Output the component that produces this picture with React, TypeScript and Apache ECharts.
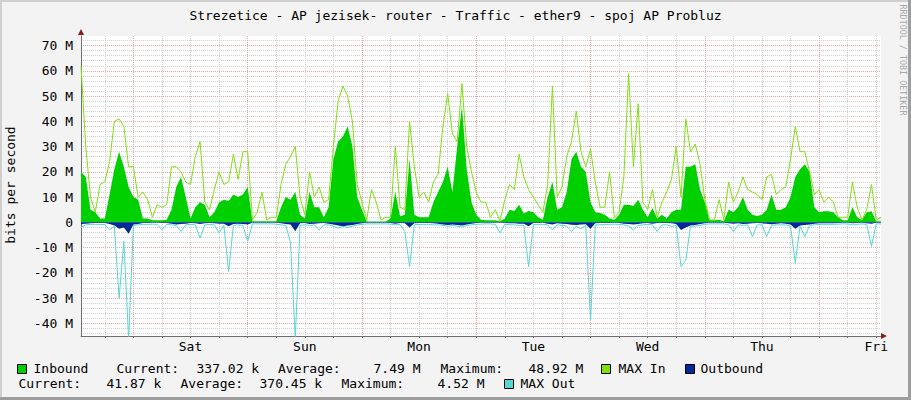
import React, { useEffect, useRef } from 'react';
import * as echarts from 'echarts';

const TITLE = 'Strezetice - AP jezisek- router - Traffic - ether9 - spoj AP Probluz';
const Y_AXIS_NAME = 'bits per second';
const WATERMARK = 'RRDTOOL / TOBI OETIKER';

// x axis: hours since the left edge of the graph (one week)
const hours = Array.from({ length: 169 }, (_, i) => String(i));
const dayLabels = ['Sat', 'Sun', 'Mon', 'Tue', 'Wed', 'Thu', 'Fri'];

// values in Mbit/s
const inbound = [
  20, 18, 5, 4, 1.5, 1.5, 11, 21, 28, 22,
  14, 10, 9, 1.5, 1.5, 0.8, 0.8, 0.8, 1, 5,
  14, 18, 10, 1.5, 6, 8, 7, 2, 4, 8,
  9, 8.5, 11, 10, 11, 14, 0.4, 0.4, 0.4, 0.4,
  0.4, 0.4, 6, 10, 9, 12, 3, 1.5, 12, 6,
  6, 2, 6, 25, 32, 34, 38, 30, 10, 5,
  0.3, 0.3, 0.3, 0.3, 0.3, 1.5, 12, 2.4, 3, 25,
  3, 2, 2, 2, 8, 12, 16, 22, 12, 30,
  46, 21, 8, 3, 1, 0.8, 0.8, 0.8, 0.4, 1.5,
  5, 4.5, 7, 3.5, 4.5, 4, 2, 1, 10, 16,
  5, 6, 12, 25, 28, 22, 20, 8, 4, 3.7,
  3, 1.5, 1, 3, 7, 7, 6.5, 9, 5, 2,
  5.7, 1.5, 3, 1.5, 4, 5, 5, 22, 22, 23,
  13, 8, 0.8, 0.8, 1, 0.4, 5, 4, 6, 10,
  5, 3, 2.5, 3, 5, 11, 5, 5, 6, 10,
  18, 21, 23, 20, 6, 4, 4.4, 4.4, 4, 2,
  0.8, 0.8, 6, 2, 0.8, 4, 4.4, 0.4, 0.4,
];

const maxIn = [
  62, 30, 10, 4, 15, 16, 24, 40, 41, 38,
  22, 22, 10, 12, 9, 2, 7, 6, 7, 22,
  22, 20, 16, 15, 26, 32, 8, 5, 13, 20,
  15, 16, 27, 17, 28, 28, 1, 4, 12, 1,
  2, 2, 15, 23, 26, 30, 10, 3, 20, 10,
  14, 8, 9, 30, 48, 54, 50, 40, 15, 8,
  1, 13, 8, 1, 2, 2, 30, 6, 5, 40,
  22, 10, 12, 8, 16, 19, 38, 51, 35, 32,
  55, 30, 20, 12, 8, 8, 2, 5, 0.5, 9,
  15, 13, 27, 18, 13, 10, 7, 4, 15, 54,
  10, 14, 26, 32, 44, 28, 22, 29, 16, 6,
  6, 20, 2, 4, 18, 59, 22, 47, 8, 5,
  13, 2, 8, 12, 17, 30, 10, 41, 28, 31,
  23, 9, 1, 1, 9, 1, 16, 8, 12, 18,
  13, 12, 11, 9, 18, 19, 11, 13, 14, 25,
  38, 28, 28, 20, 11, 13, 8, 10, 8, 2,
  2, 2, 16, 6, 1, 5, 15, 1, 2,
];

const outbound = [
  -0.6, -0.5, -0.4, -0.3, -0.3, -0.3, -0.6, -1.2, -2.5, -2,
  -4.5, -0.8, -0.6, -0.3, -0.3, -0.2, -0.2, -0.3, -0.3, -0.5,
  -0.8, -0.6, -0.5, -0.3, -0.4, -0.6, -0.4, -0.3, -0.4, -0.5,
  -0.5, -1.5, -0.6, -0.5, -0.6, -0.8, -0.2, -0.2, -0.2, -0.2,
  -0.2, -0.2, -0.4, -0.6, -0.8, -3.5, -0.4, -0.3, -0.6, -0.5,
  -0.4, -0.3, -0.5, -0.8, -1.2, -1.5, -1.2, -1, -0.6, -0.4,
  -0.2, -0.2, -0.2, -0.2, -0.2, -0.3, -0.5, -0.3, -0.4, -2,
  -0.4, -0.3, -0.3, -0.3, -0.4, -0.5, -0.8, -1, -0.8, -1,
  -1.2, -0.8, -0.5, -0.3, -0.2, -0.2, -0.2, -0.2, -0.2, -0.3,
  -0.4, -0.4, -0.5, -0.5, -1.5, -0.3, -0.3, -0.2, -0.5, -0.8,
  -0.4, -0.5, -0.6, -0.9, -1, -0.8, -0.7, -2.5, -0.4, -0.3,
  -0.3, -0.3, -0.2, -0.3, -0.5, -0.6, -0.8, -0.6, -0.4, -0.3,
  -0.5, -0.3, -0.3, -0.3, -0.4, -0.6, -3, -2, -1.2, -1,
  -0.6, -0.4, -0.2, -0.2, -0.2, -0.2, -0.4, -0.5, -0.4, -0.6,
  -0.5, -0.4, -0.3, -0.4, -0.5, -0.7, -0.5, -0.4, -0.5, -0.8,
  -2.5, -1.2, -1, -0.8, -0.5, -0.4, -0.4, -0.4, -0.4, -0.3,
  -0.2, -0.2, -0.4, -0.3, -0.2, -0.4, -0.5, -0.2, -0.2,
];

const maxOut = [
  -2, -1, -0.8, -0.8, -0.8, -0.9, -3, -1.5, -30, -7.5,
  -46, -1.2, -1, -0.8, -0.8, -0.7, -0.8, -3, -0.8, -1,
  -1.2, -3.6, -1, -0.8, -1, -6.2, -1, -0.8, -1, -4.2,
  -1.2, -19.5, -1.2, -1, -1.2, -7.5, -0.6, -0.6, -0.6, -0.6,
  -0.6, -0.7, -1, -1.2, -8, -46, -1.2, -1, -1.2, -1,
  -3, -1, -1, -1.5, -2.3, -1.6, -2, -1.5, -1, -0.8,
  -0.6, -0.6, -0.6, -0.6, -0.6, -0.7, -1, -0.8, -3.6, -17.5,
  -1, -0.8, -0.8, -0.8, -1, -1, -1.2, -1.5, -1.2, -1.5,
  -1.8, -1.2, -1, -0.8, -0.7, -0.6, -0.6, -0.8, -4.2, -0.7,
  -0.9, -1, -1.2, -1.2, -17.5, -0.9, -0.8, -0.8, -1, -3,
  -1, -1.2, -1.5, -3.6, -1.5, -2.5, -1.2, -38.7, -1, -1,
  -0.8, -0.8, -0.7, -0.8, -1, -1.5, -3, -1.2, -1, -0.8,
  -1, -3.6, -1, -1, -1.6, -1.2, -17.5, -15, -1.5, -1.5,
  -1.2, -0.8, -0.6, -0.6, -0.6, -0.6, -1, -3.6, -1, -1.2,
  -1, -5.6, -1, -1, -5.6, -1.2, -1, -1, -1, -1.5,
  -16, -1.5, -5.6, -1.2, -1, -0.8, -0.8, -0.8, -0.8, -0.7,
  -0.6, -0.6, -1, -0.8, -0.6, -0.8, -9.5, -0.6, -0.6,
];

const inboundStats = ['337.02 k', '7.49 M', '48.92 M'];
const outboundStats = ['41.87 k', '370.45 k', '4.52 M'];
const statLabels = ['Current:', 'Average:', 'Maximum:'];
const seriesNames = ['Inbound', 'MAX In', 'Outbound', 'MAX Out'];

const COLORS = {
  inbound: '#00cf00',
  maxIn: '#7fe010',
  outbound: '#002a97',
  maxOut: '#55d6d3',
};

const FONT = '"DejaVu Sans Mono", monospace';
const MAJOR = '#eaa3a3';
const MINOR = '#cfcfcf';
const AXIS = '#6f6f6f';

function txt(text: string, x: number, y: number, extra: any = {}, rotation = 0) {
  return {
    type: 'text',
    x,
    y,
    rotation,
    silent: true,
    style: {
      text,
      fill: '#000',
      fontFamily: FONT,
      fontSize: 13,
      align: 'left',
      verticalAlign: 'middle',
      textAlign: 'left',
      textVerticalAlign: 'middle',
      ...extra,
    },
  };
}

function box(x: number, y: number, color: string) {
  return {
    type: 'rect',
    silent: true,
    shape: { x: x + 0.5, y: y + 0.5, width: 9, height: 9 },
    style: { fill: color, stroke: '#000', lineWidth: 1 },
  };
}

export default function App() {
  const ref = useRef<HTMLDivElement>(null);

  useEffect(() => {
    if (!ref.current) return;
    const chart = echarts.init(ref.current, undefined, { renderer: 'svg' });

    const row1 = 368.5;
    const row2 = 383.5;

    const graphic: any[] = [
      // frame shading
      { type: 'rect', silent: true, shape: { x: 0, y: 0, width: 911, height: 2 }, style: { fill: '#cfcfcf' } },
      { type: 'rect', silent: true, shape: { x: 0, y: 0, width: 2, height: 400 }, style: { fill: '#cfcfcf' } },
      { type: 'rect', silent: true, shape: { x: 908, y: 0, width: 3, height: 400 }, style: { fill: '#9e9e9e' } },
      { type: 'rect', silent: true, shape: { x: 0, y: 397, width: 911, height: 3 }, style: { fill: '#9e9e9e' } },
      // title
      txt(TITLE, 455.5, 15, { align: 'center', textAlign: 'center' }),
      // vertical axis title
      txt(Y_AXIS_NAME, 10.5, 185, { align: 'center', textAlign: 'center' }, Math.PI / 2),
      // watermark
      txt(WATERMARK, 903, 60, { align: 'center', textAlign: 'center', fontSize: 8.4, fill: '#a8a8a8' }, -Math.PI / 2),
      // axis arrows
      { type: 'polygon', silent: true, shape: { points: [[78, 35], [84, 35], [81, 29]] }, style: { fill: '#8b1a1a' } },
      { type: 'polygon', silent: true, shape: { points: [[881, 333], [881, 339], [887, 336]] }, style: { fill: '#8b1a1a' } },
      // legend row 1
      box(17, 364, COLORS.inbound),
      txt(seriesNames[0], 33.5, row1),
      txt(statLabels[0], 116.5, row1),
      txt(inboundStats[0], 196.5, row1),
      txt(statLabels[1], 278, row1),
      txt(inboundStats[1], 373.5, row1),
      txt(statLabels[2], 440.5, row1),
      txt(inboundStats[2], 528.5, row1),
      box(601, 364, COLORS.maxIn),
      txt(seriesNames[1], 618.5, row1),
      box(685, 364, COLORS.outbound),
      txt(seriesNames[2], 700.5, row1),
      // legend row 2
      txt(statLabels[0], 18.5, row2),
      txt(outboundStats[0], 106.5, row2),
      txt(statLabels[1], 180.5, row2),
      txt(outboundStats[1], 259.5, row2),
      txt(statLabels[2], 341.5, row2),
      txt(outboundStats[2], 437.5, row2),
      box(504, 379, COLORS.maxOut),
      txt(seriesNames[3], 520.5, row2),
    ];

    const lineSeries = (
      name: string,
      data: number[],
      color: string,
      lineWidth: number,
      area: any,
      z: number,
    ) => ({
      name,
      type: 'line',
      data,
      showSymbol: false,
      symbol: 'none',
      silent: true,
      lineStyle: { width: lineWidth, color },
      itemStyle: { color },
      areaStyle: area || undefined,
      z,
    });

    const option: any = {
      animation: false,
      backgroundColor: '#f3f3f3',
      grid: {
        left: 81,
        right: 30,
        top: 36,
        bottom: 64,
        show: true,
        backgroundColor: '#ffffff',
        borderWidth: 0,
        containLabel: false,
        outerBoundsMode: 'none',
      },
      xAxis: [
        {
          type: 'category',
          data: hours,
          boundaryGap: false,
          position: 'bottom',
          axisLine: { show: true, onZero: false, lineStyle: { color: AXIS, width: 1 } },
          axisTick: {
            show: true,
            length: 2,
            interval: (i: number) => i % 6 === 5,
            lineStyle: { color: AXIS },
          },
          axisLabel: {
            show: true,
            interval: (i: number) => i % 24 === 23,
            formatter: (_v: string, i: number) => dayLabels[Math.floor(i / 24)],
            margin: 4,
            fontFamily: FONT,
            fontSize: 13,
            color: '#000',
          },
          splitLine: {
            show: true,
            interval: (i: number) => i % 6 === 5 && i % 24 !== 11,
            lineStyle: { color: MINOR, type: 'dotted', width: 1 },
          },
        },
        {
          type: 'category',
          data: hours,
          boundaryGap: false,
          position: 'bottom',
          axisLine: { show: false, onZero: false },
          axisTick: { show: false },
          axisLabel: { show: false },
          splitLine: {
            show: true,
            interval: (i: number) => i % 24 === 11,
            lineStyle: { color: MAJOR, type: 'dotted', width: 1 },
          },
        },
      ],
      yAxis: {
        type: 'value',
        min: -45,
        max: 73.8,
        splitNumber: 12,
        axisLine: { show: true, lineStyle: { color: AXIS, width: 1 } },
        axisTick: { show: false },
        axisLabel: {
          margin: 8,
          fontFamily: FONT,
          fontSize: 13,
          color: '#000',
          showMinLabel: false,
          showMaxLabel: false,
          formatter: (v: number) => (v === 0 ? '0' : `${v} M`),
        },
        splitLine: {
          show: true,
          showMinLine: false,
          showMaxLine: false,
          lineStyle: { color: MAJOR, type: 'dotted', width: 1 },
        },
        minorTick: { show: false, splitNumber: 5 },
        minorSplitLine: { show: true, lineStyle: { color: MINOR, type: 'dotted', width: 1 } },
      },
      series: [
        lineSeries(seriesNames[0], inbound, COLORS.inbound, 0, { color: COLORS.inbound, opacity: 1 }, 2),
        lineSeries(seriesNames[1], maxIn, COLORS.maxIn, 1, null, 3),
        lineSeries(seriesNames[2], outbound, COLORS.outbound, 0, { color: COLORS.outbound, opacity: 1 }, 4),
        lineSeries(seriesNames[3], maxOut, COLORS.maxOut, 1, null, 5),
      ],
      graphic,
    };

    chart.setOption(option);
    return () => chart.dispose();
  }, []);

  return (
    <div
      ref={ref}
      style={{ position: 'absolute', left: 0, top: 0, width: 911, height: 400 }}
    />
  );
}
